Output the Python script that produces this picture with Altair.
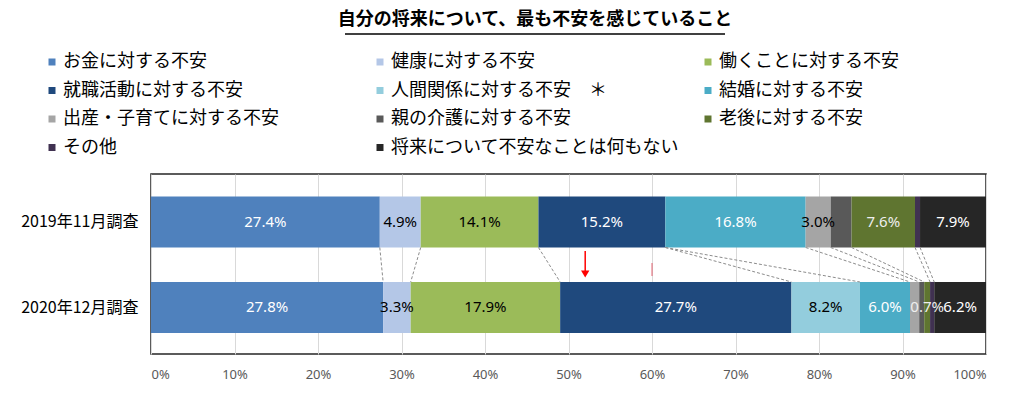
import altair as alt
import pandas as pd

title_text = "自分の将来について、最も不安を感じていること"
surveys = ["2019年11月調査", "2020年12月調査"]
categories = [
    "お金に対する不安",
    "健康に対する不安",
    "働くことに対する不安",
    "就職活動に対する不安",
    "人間関係に対する不安　＊",
    "結婚に対する不安",
    "出産・子育てに対する不安",
    "親の介護に対する不安",
    "老後に対する不安",
    "その他",
    "将来について不安なことは何もない",
]
vals_2019 = [27.4, 4.9, 14.1, 15.2, 0.0, 16.8, 3.0, 2.5, 7.6, 0.6, 7.9]
vals_2020 = [27.8, 3.3, 17.9, 27.7, 8.2, 6.0, 1.1, 0.6, 0.7, 0.5, 6.2]
show_2019 = [1, 1, 1, 1, 0, 1, 1, 0, 1, 0, 1]
show_2020 = [1, 1, 1, 1, 1, 1, 0, 0, 1, 0, 1]
colors = ["#4F81BD", "#B4C7E7", "#9BBB59", "#1F497D", "#93CDDD", "#4BACC6",
          "#A5A5A5", "#595959", "#5F7530", "#403151", "#262626"]
label_colors = ["#FFFFFF", "#000000", "#000000", "#FFFFFF", "#000000", "#FFFFFF",
                "#000000", "#FFFFFF", "#EEEEEE", "#FFFFFF", "#FFFFFF"]
x_ticks = [0, 10, 20, 30, 40, 50, 60, 70, 80, 90, 100]
arrow_x = [52.0]
mark_x = [60.0]

FONT_JP = "Noto Sans CJK JP"

# build tables
rows = []
ends = {}
for r, (vals, shows) in enumerate([(vals_2019, show_2019), (vals_2020, show_2020)]):
    cum = 0.0
    ends[r] = []
    for cat, v, s, lc in zip(categories, vals, shows, label_colors):
        rows.append({"row": r, "category": cat, "start": cum, "end": cum + v,
                     "mid": cum + v / 2, "label": f"{v:.1f}%", "show": s, "lc": lc})
        cum += v
        ends[r].append(cum)
df = pd.DataFrame(rows)
lines_df = pd.DataFrame({"a": ends[0][:-1], "b": ends[1][:-1], "r0": 0, "r1": 1})

xscale = alt.Scale(domain=[0, 100], nice=False, zero=False)
yscale = alt.Scale(domain=[-0.503, 1.486], reverse=True, nice=False, zero=False)

label_expr = f"datum.value == 0 ? '{surveys[0]}' : '{surveys[1]}'"

bars = alt.Chart(df).mark_bar(orient="horizontal", size=51).encode(
    x=alt.X("start:Q", scale=xscale, title=None,
            axis=alt.Axis(values=x_ticks, labelExpr="datum.value + '%'", grid=True,
                          gridColor="#D9D9D9", domain=False, ticks=False,
                          labelColor="#595959", labelFontSize=13, labelFont="Noto Sans",
                          labelPadding=14)),
    x2="end:Q",
    y=alt.Y("row:Q", scale=yscale, title=None,
            axis=alt.Axis(values=[0, 1], labelExpr=label_expr, grid=False, domain=False,
                          ticks=False, labelColor="#000000", labelFontSize=16,
                          labelFont=FONT_JP, labelPadding=13)),
    color=alt.Color("category:N", scale=alt.Scale(domain=categories, range=colors),
                    legend=alt.Legend(orient="none", legendX=-108, legendY=-121,
                                      direction="horizontal",
                                      columns=3, gridAlign="all", symbolType="square",
                                      symbolSize=49, symbolStrokeWidth=0, labelFontSize=18,
                                      labelFont=FONT_JP, labelLimit=400, labelOffset=2,
                                      columnPadding=20, rowPadding=10.5, title=None,
                                      padding=0, symbolOpacity=1, labelColor="#000000")),
)

texts = alt.Chart(df[df["show"] == 1]).mark_text(font="Noto Sans", fontSize=15).encode(
    x=alt.X("mid:Q", title=None),
    y=alt.Y("row:Q", title=None),
    text="label:N",
    color=alt.Color("lc:N", scale=None),
)

series_lines = alt.Chart(lines_df).mark_rule(
    color="#8C8C8C", strokeDash=[3, 2], strokeWidth=1, yOffset=25.5, y2Offset=-25.5
).encode(
    x=alt.X("a:Q", title=None), x2="b:Q",
    y=alt.Y("r0:Q", title=None), y2="r1:Q",
)

arrow_df = pd.DataFrame({"x": arrow_x})
arrow_line = alt.Chart(arrow_df).mark_rule(color="#FF0000", strokeWidth=1.5).encode(
    x=alt.X("x:Q", title=None), y=alt.value(77), y2=alt.value(97))
arrow_head = alt.Chart(arrow_df).mark_point(
    shape="triangle-down", filled=True, size=70, color="#FF0000", opacity=1
).encode(x=alt.X("x:Q", title=None), y=alt.value(100))

mark_df = pd.DataFrame({"x": mark_x})
red_mark = alt.Chart(mark_df).mark_rule(color="#E04050", strokeWidth=1, opacity=0.8).encode(
    x=alt.X("x:Q", title=None), y=alt.value(89), y2=alt.value(102))

title_df = pd.DataFrame({"t": [title_text]})
title = alt.Chart(title_df).mark_text(
    font=FONT_JP, fontSize=18, fontWeight="bold", align="center", baseline="middle",
    color="#000000"
).encode(text="t:N", x=alt.value(384), y=alt.value(-154))
underline = alt.Chart(title_df).mark_rule(color="#000000", strokeWidth=1.5).encode(
    x=alt.value(194), x2=alt.value(574), y=alt.value(-140))

chart = alt.layer(
    bars, series_lines, texts, arrow_line, arrow_head, red_mark, title, underline
).properties(
    width=835, height=180,
    autosize=alt.AutoSizeParams(type="none"),
    padding={"left": 143, "top": 166, "right": 24, "bottom": 31},
).configure_view(stroke="#262626", strokeWidth=1.5)

chart.save("out.html", embed_options={"renderer": "svg", "actions": False})
